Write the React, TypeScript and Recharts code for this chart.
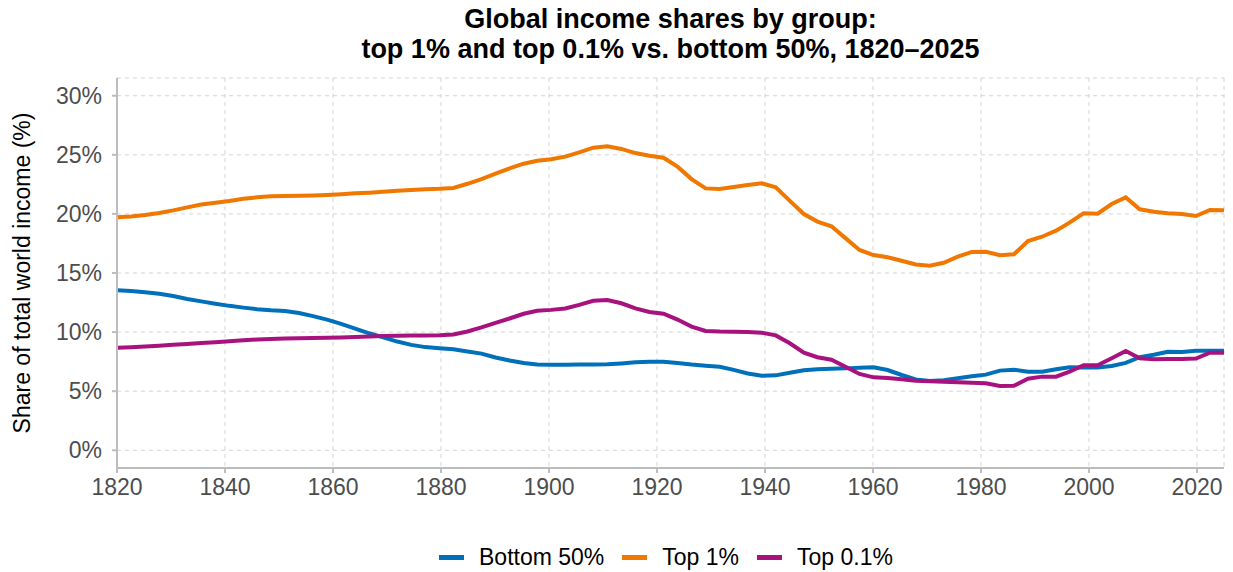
import React from "react";
import { LineChart, Line, XAxis, YAxis, CartesianGrid, Legend } from "recharts";

const years = [
  1820.0, 1822.6, 1825.2, 1827.8, 1830.4, 1833.0, 1835.6, 1838.2, 1840.8, 1843.4,
  1845.9, 1848.5, 1851.1, 1853.7, 1856.3, 1858.9, 1861.5, 1864.1, 1866.7, 1869.3,
  1871.9, 1874.5, 1877.1, 1879.7, 1882.3, 1884.9, 1887.5, 1890.1, 1892.7, 1895.3,
  1897.8, 1900.4, 1903.0, 1905.6, 1908.2, 1910.8, 1913.4, 1916.0, 1918.6, 1921.2,
  1923.8, 1926.4, 1929.0, 1931.6, 1934.2, 1936.8, 1939.4, 1942.0, 1944.6, 1947.2,
  1949.7, 1952.3, 1954.9, 1957.5, 1960.1, 1962.7, 1965.3, 1967.9, 1970.5, 1973.1,
  1975.7, 1978.3, 1980.9, 1983.5, 1986.1, 1988.7, 1991.3, 1993.9, 1996.4, 1999.0,
  2001.6, 2004.2, 2006.8, 2009.4, 2012.0, 2014.6, 2017.2, 2019.8, 2022.4, 2025.0,
];

const bottom50 = [
  13.54, 13.48, 13.38, 13.25, 13.05, 12.8, 12.6, 12.4, 12.22, 12.07,
  11.94, 11.84, 11.78, 11.62, 11.35, 11.05, 10.7, 10.3, 9.9, 9.55,
  9.2, 8.92, 8.73, 8.63, 8.55, 8.36, 8.18, 7.85, 7.6, 7.38,
  7.25, 7.23, 7.24, 7.25, 7.26, 7.28, 7.35, 7.44, 7.5, 7.5,
  7.38, 7.25, 7.15, 7.07, 6.8, 6.5, 6.31, 6.34, 6.56, 6.77,
  6.86, 6.9, 6.93, 6.99, 7.02, 6.79, 6.37, 5.99, 5.86, 5.93,
  6.1, 6.26, 6.4, 6.74, 6.82, 6.65, 6.65, 6.85, 7.02, 7.0,
  7.0, 7.13, 7.39, 7.87, 8.09, 8.34, 8.31, 8.43, 8.43, 8.43,
];

const top1 = [
  19.71, 19.78, 19.9, 20.08, 20.3, 20.55, 20.8, 20.95, 21.1, 21.28,
  21.4, 21.5, 21.52, 21.54, 21.56, 21.6, 21.66, 21.74, 21.8, 21.88,
  21.95, 22.02, 22.08, 22.12, 22.2, 22.55, 22.95, 23.4, 23.85, 24.25,
  24.5, 24.62, 24.85, 25.2, 25.6, 25.72, 25.5, 25.15, 24.92, 24.75,
  24.0, 22.95, 22.16, 22.1, 22.28, 22.45, 22.59, 22.25, 21.1, 19.99,
  19.35, 18.95, 17.95, 16.95, 16.52, 16.33, 16.04, 15.72, 15.62, 15.87,
  16.38, 16.78, 16.8, 16.5, 16.58, 17.7, 18.07, 18.58, 19.26, 20.05,
  20.02, 20.84, 21.4, 20.39, 20.19, 20.05, 19.99, 19.82, 20.33, 20.3,
];

const top01 = [
  8.68, 8.72, 8.78, 8.84, 8.92, 8.99, 9.07, 9.14, 9.22, 9.3,
  9.37, 9.42, 9.45, 9.47, 9.5, 9.52, 9.55, 9.59, 9.63, 9.66,
  9.69, 9.71, 9.72, 9.73, 9.8, 10.05, 10.4, 10.78, 11.15, 11.55,
  11.8, 11.88, 12.0, 12.3, 12.65, 12.72, 12.44, 12.0, 11.7, 11.56,
  11.06, 10.46, 10.09, 10.04, 10.02, 10.0, 9.95, 9.72, 9.05, 8.26,
  7.87, 7.66, 7.07, 6.46, 6.17, 6.12, 6.0, 5.89, 5.83, 5.8,
  5.75, 5.72, 5.67, 5.44, 5.46, 6.06, 6.23, 6.23, 6.65, 7.19,
  7.19, 7.78, 8.4, 7.78, 7.7, 7.72, 7.73, 7.76, 8.26, 8.26,
];

const xTicks = [1820, 1840, 1860, 1880, 1900, 1920, 1940, 1960, 1980, 2000, 2020];
const yTicks = [0, 5, 10, 15, 20, 25, 30];

const seriesNames = ["Bottom 50%", "Top 1%", "Top 0.1%"];
const seriesColors = ["#0070BB", "#F07800", "#A8127F"];

const data = years.map((y, i) => ({
  year: y,
  b50: bottom50[i],
  t1: top1[i],
  t01: top01[i],
}));

const FONT = "'Liberation Sans', Arial, Helvetica, sans-serif";

const LegendContent = () => (
  <div
    style={{
      display: "flex",
      justifyContent: "center",
      alignItems: "center",
      height: 30,
      fontFamily: FONT,
      fontSize: 23,
      color: "#000",
      paddingLeft: 108,
      boxSizing: "border-box",
    }}
  >
    {seriesNames.map((n, i) => (
      <div key={n} style={{ display: "flex", alignItems: "center", marginRight: i < 2 ? 18 : 0 }}>
        <div style={{ width: 25, height: 5, background: seriesColors[i], marginRight: 15 }} />
        <span>{n}</span>
      </div>
    ))}
  </div>
);

const YLabel = (props: any) => {
  const vb = props.viewBox || {};
  const cy = (vb.y ?? 78) + (vb.height ?? 390) / 2;
  return (
    <text
      x={22}
      y={cy}
      transform={`rotate(-90, 22, ${cy})`}
      textAnchor="middle"
      dominantBaseline="central"
      fontFamily={FONT}
      fontSize={23}
      fill="#000"
    >
      Share of total world income (%)
    </text>
  );
};

export default function App() {
  return (
    <div style={{ position: "absolute", left: 0, top: 0, width: 1233, height: 572, background: "#fff" }}>
      <div
        style={{
          position: "absolute",
          left: 117,
          width: 1107,
          top: 4,
          textAlign: "center",
          fontFamily: FONT,
          fontWeight: "bold",
          fontSize: 27,
          lineHeight: "30px",
          color: "#000",
        }}
      >
        <div>Global income shares by group:</div>
        <div>top 1% and top 0.1% vs. bottom 50%, 1820–2025</div>
      </div>
      <LineChart
        width={1233}
        height={572}
        data={data}
        margin={{ top: 78, right: 9, left: 0, bottom: 0 }}
        style={{ position: "absolute", left: 0, top: 0 }}
      >
        <CartesianGrid stroke="#d4d4d4" strokeDasharray="4 4" strokeWidth={1} />
        <XAxis
          dataKey="year"
          type="number"
          domain={[1820, 2025]}
          ticks={xTicks}
          allowDataOverflow
          height={74}
          stroke="#bdbdbd"
          strokeWidth={2}
          tickSize={5}
          tickMargin={6}
          tick={{ fill: "#4d4d4d", fontSize: 23, fontFamily: FONT }}
        />
        <YAxis
          type="number"
          domain={[-1.5, 31.5]}
          ticks={yTicks}
          allowDataOverflow
          width={117}
          stroke="#bdbdbd"
          strokeWidth={2}
          tickSize={5}
          tickMargin={10}
          tickFormatter={(v: number) => `${v}%`}
          tick={{ fill: "#4d4d4d", fontSize: 23, fontFamily: FONT }}
          label={<YLabel />}
        />
        <Legend verticalAlign="bottom" height={30} content={<LegendContent />} />
        <Line type="linear" dataKey="b50" name={seriesNames[0]} stroke={seriesColors[0]} strokeWidth={4} dot={false} isAnimationActive={false} />
        <Line type="linear" dataKey="t1" name={seriesNames[1]} stroke={seriesColors[1]} strokeWidth={4} dot={false} isAnimationActive={false} />
        <Line type="linear" dataKey="t01" name={seriesNames[2]} stroke={seriesColors[2]} strokeWidth={4} dot={false} isAnimationActive={false} />
      </LineChart>
    </div>
  );
}
